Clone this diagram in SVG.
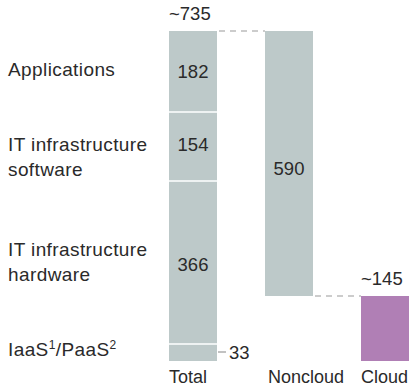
<svg xmlns="http://www.w3.org/2000/svg" width="409" height="391" viewBox="0 0 409 391">
<style>
text{font-family:"Liberation Sans",Arial,sans-serif;font-size:18px;fill:#2a2a2a}
.l{font-size:19px;letter-spacing:0.4px}
.n{font-size:18.5px}
.g{fill:#bdc9c9}
.p{fill:#b07fb5}
.sep{stroke:#fff;stroke-width:1.5}
.dash{stroke:#999;stroke-width:1.2;stroke-dasharray:6 5;fill:none}
.m{text-anchor:middle}
</style>
<rect width="409" height="391" fill="#fff"/>
<g id="labels">
<text class="l" x="8" y="76">Applications</text>
<text class="l" x="8" y="151">IT infrastructure</text>
<text class="l" x="8" y="176">software</text>
<text class="l" x="8" y="256">IT infrastructure</text>
<text class="l" x="8" y="281">hardware</text>
<text class="l" x="8" y="356">IaaS<tspan font-size="12" dy="-7">1</tspan><tspan dy="7">/PaaS</tspan><tspan font-size="12" dy="-7">2</tspan></text>
</g>
<g id="total">
<rect class="g" x="169" y="31" width="48" height="330"/>
<line class="sep" x1="169" y1="112" x2="217" y2="112"/>
<line class="sep" x1="169" y1="181" x2="217" y2="181"/>
<line class="sep" x1="169" y1="344" x2="217" y2="344"/>
<text class="n" x="169" y="20">~735</text>
<text class="n m" x="193" y="78">182</text>
<text class="n m" x="193" y="151">154</text>
<text class="n m" x="193" y="271">366</text>
<line x1="218" y1="352" x2="226" y2="352" stroke="#999" stroke-width="1.2"/>
<text class="n" x="229" y="359">33</text>
<text x="169" y="383">Total</text>
</g>
<g id="noncloud">
<rect class="g" x="265" y="31" width="48" height="265"/>
<text class="n m" x="289" y="175">590</text>
<text x="268" y="383">Noncloud</text>
</g>
<g id="cloud">
<rect class="p" x="361" y="296" width="48" height="65"/>
<text class="n" x="361" y="285">~145</text>
<text x="361" y="383">Cloud</text>
</g>
<g id="connectors">
<line class="dash" x1="219" y1="31" x2="265" y2="31"/>
<line class="dash" x1="315" y1="296" x2="361" y2="296"/>
</g>
</svg>
